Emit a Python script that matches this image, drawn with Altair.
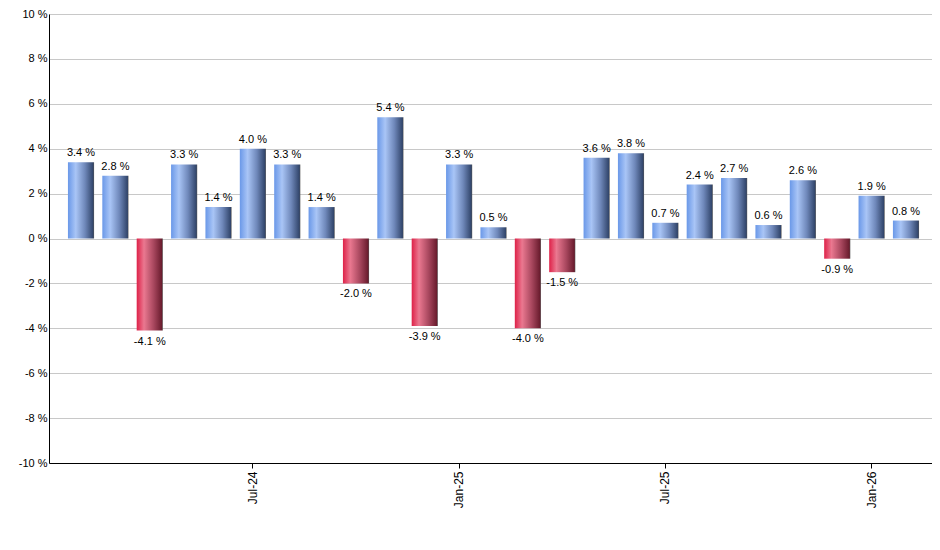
import altair as alt
import pandas as pd

months = ["Feb-24", "Mar-24", "Apr-24", "May-24", "Jun-24", "Jul-24", "Aug-24", "Sep-24",
          "Oct-24", "Nov-24", "Dec-24", "Jan-25", "Feb-25", "Mar-25", "Apr-25", "May-25",
          "Jun-25", "Jul-25", "Aug-25", "Sep-25", "Oct-25", "Nov-25", "Dec-25", "Jan-26", "Feb-26"]
values = [3.4, 2.8, -4.1, 3.3, 1.4, 4.0, 3.3, 1.4, -2.0, 5.4, -3.9, 3.3, 0.5, -4.0, -1.5,
          3.6, 3.8, 0.7, 2.4, 2.7, 0.6, 2.6, -0.9, 1.9, 0.8]
tick_labels = ["Jul-24", "Jan-25", "Jul-25", "Jan-26"]
y_ticks = [-10, -8, -6, -4, -2, 0, 2, 4, 6, 8, 10]

df = pd.DataFrame({"month": months, "value": values})
df["label"] = df["value"].map(lambda v: f"{v:.1f} %")

FONT = "Liberation Sans"

blue = alt.Gradient(
    gradient="linear", x1=0, x2=1, y1=0, y2=0,
    stops=[
        alt.GradientStop(color="#6a98e8", offset=0),
        alt.GradientStop(color="#a9c5f6", offset=0.3),
        alt.GradientStop(color="#6f88ba", offset=0.65),
        alt.GradientStop(color="#32466c", offset=0.96),
        alt.GradientStop(color="#555555", offset=1),
    ],
)
red = alt.Gradient(
    gradient="linear", x1=0, x2=1, y1=0, y2=0,
    stops=[
        alt.GradientStop(color="#de2148", offset=0),
        alt.GradientStop(color="#ea7890", offset=0.28),
        alt.GradientStop(color="#a8475e", offset=0.65),
        alt.GradientStop(color="#6a1c2e", offset=0.96),
        alt.GradientStop(color="#555555", offset=1),
    ],
)

x_enc = alt.X(
    "month:N", sort=months, title=None,
    scale=alt.Scale(paddingInner=0.24, paddingOuter=0.464, align=0.594),
    axis=alt.Axis(values=tick_labels, labelAngle=-90, grid=False, ticks=True,
                  tickSize=5, tickColor="black", domainColor="black",
                  labelFont=FONT, labelFontSize=12, labelColor="black", labelPadding=3),
)
y_enc = alt.Y(
    "value:Q", title=None,
    scale=alt.Scale(domain=[-10, 10], nice=False),
    axis=alt.Axis(values=y_ticks, labelExpr="datum.value + ' %'", ticks=False,
                  grid=True, gridColor="#c8c8c8", domainColor="black",
                  labelFont=FONT, labelFontSize=11, labelColor="black", labelPadding=2),
)

base = alt.Chart(df)

pos_bars = base.transform_filter("datum.value >= 0").mark_bar(color=blue).encode(x=x_enc, y=y_enc)
neg_bars = base.transform_filter("datum.value < 0").mark_bar(color=red).encode(x=x_enc, y=y_enc)

pos_text = base.transform_filter("datum.value >= 0").mark_text(
    baseline="bottom", dy=-4, font=FONT, fontSize=11, color="black"
).encode(x=x_enc, y=y_enc, text="label:N")
neg_text = base.transform_filter("datum.value < 0").mark_text(
    baseline="top", dy=5, font=FONT, fontSize=11, color="black"
).encode(x=x_enc, y=y_enc, text="label:N")

chart = alt.layer(pos_bars, neg_bars, pos_text, neg_text).properties(
    width=883, height=449,
    autosize=alt.AutoSizeParams(type="none"),
    padding={"left": 41, "top": 6, "right": 0, "bottom": 80},
).configure_view(stroke=None).configure(background="white")

chart.save("out.html", embed_options={"renderer": "svg", "actions": False})
